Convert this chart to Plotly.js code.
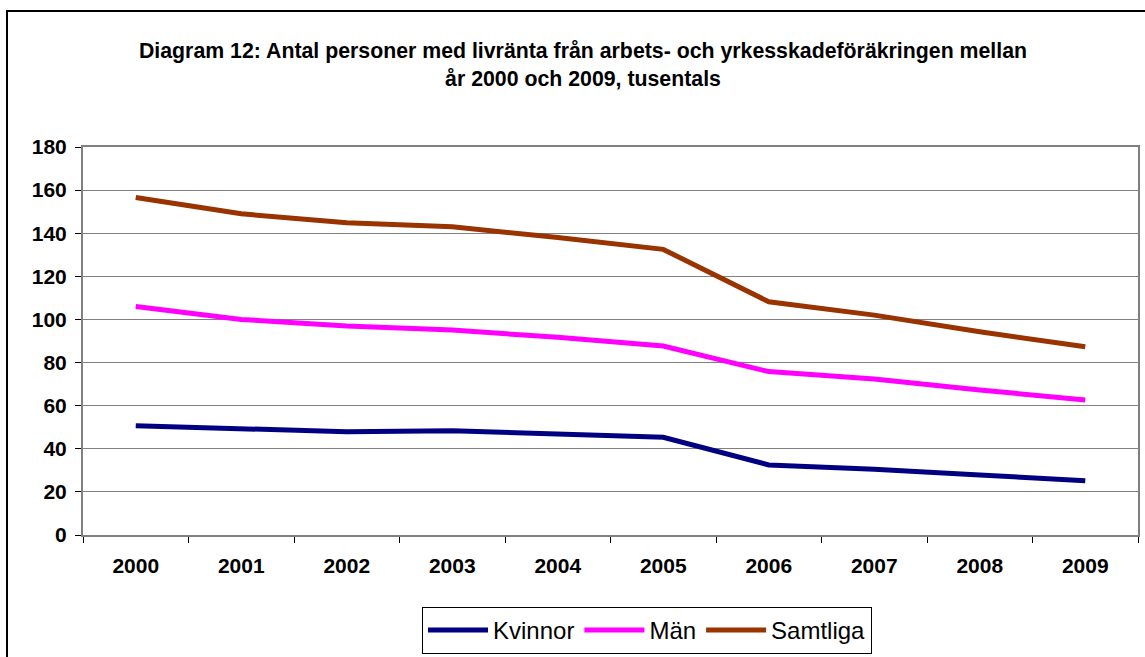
<!DOCTYPE html>
<html>
<head>
<meta charset="utf-8">
<script src="https://cdn.plot.ly/plotly-3.0.1.min.js"></script>
<style>
html,body{margin:0;padding:0;background:#fff;}
#chart{width:1145px;height:657px;}
</style>
</head>
<body>
<div id="chart"></div>
<script>
// Data (tusentals)
const years = ["2000","2001","2002","2003","2004","2005","2006","2007","2008","2009"];
const kvinnor = [50.7, 49.2, 47.9, 48.4, 46.8, 45.3, 32.5, 30.5, 27.8, 25.2];
const man = [106, 100, 97, 95.1, 91.7, 87.7, 75.8, 72.4, 67.3, 62.6];
const samtliga = [156.6, 149, 144.9, 143, 138, 132.5, 108.2, 102, 94.3, 87.3];
const seriesNames = ["Kvinnor", "Män", "Samtliga"];
const seriesColors = ["#000080", "#FF00FF", "#993300"];
const titleText = "Diagram 12: Antal personer med livränta från arbets- och yrkesskadeföräkringen mellan<br>år 2000 och 2009, tusentals";

const FONT = "Liberation Sans, Arial, Helvetica, sans-serif";
const seriesValues = [kvinnor, man, samtliga];

const traces = seriesNames.map((name, i) => ({
  type: "scatter",
  mode: "lines",
  name: name,
  x: years,
  y: seriesValues[i],
  line: {color: seriesColors[i], width: 5},
  hoverinfo: "x+y+name"
}));

// plot area in pixels: x 83..1138, y 147..535
const L = 83, R = 7, T = 147, B = 122;
const PW = 1145 - L - R, PH = 657 - T - B;
const px = v => (v - L) / PW;
const py = v => (657 - B - v) / PH;

const layout = {
  width: 1145,
  height: 657,
  margin: {l: L, r: R, t: T, b: B, pad: 0, autoexpand: false},
  paper_bgcolor: "#ffffff",
  plot_bgcolor: "#ffffff",
  font: {family: FONT, color: "#000000"},
  title: {
    text: titleText,
    font: {family: FONT, size: 21.3, color: "#000000", weight: "bold"},
    x: 583 / 1145,
    xref: "container",
    xanchor: "center",
    y: 1 - 58 / 657,
    yref: "container",
    yanchor: "middle"
  },
  xaxis: {
    type: "category",
    range: [-0.5, years.length - 0.5],
    tickson: "boundaries",
    ticks: "outside",
    ticklen: 6,
    tickwidth: 1,
    tickcolor: "#000000",
    showgrid: false,
    showline: true,
    linecolor: "#808080",
    linewidth: 2,
    mirror: true,
    automargin: false,
    tickfont: {family: FONT, size: 21, color: "#000000", weight: "bold"},
    ticklabelstandoff: 11,
    fixedrange: true
  },
  yaxis: {
    range: [0, 180],
    dtick: 20,
    tick0: 0,
    ticks: "outside",
    ticklen: 6,
    tickwidth: 1,
    tickcolor: "#000000",
    showgrid: true,
    gridcolor: "#808080",
    gridwidth: 1,
    zeroline: false,
    showline: true,
    linecolor: "#808080",
    linewidth: 2,
    mirror: true,
    automargin: false,
    tickfont: {family: FONT, size: 21, color: "#000000", weight: "bold"},
    ticklabelstandoff: 4,
    fixedrange: true
  },
  showlegend: true,
  legend: {
    orientation: "h",
    x: px(422),
    y: py(607),
    xanchor: "left",
    yanchor: "top",
    xref: "paper",
    yref: "paper",
    bgcolor: "#ffffff",
    bordercolor: "#000000",
    borderwidth: 1,
    font: {family: FONT, size: 24, color: "#000000"},
    itemwidth: 60,
    tracegroupgap: 0
  },
  shapes: [
    {
      type: "rect",
      xref: "paper", yref: "paper",
      x0: px(7), x1: px(1170),
      y0: py(690), y1: py(11),
      line: {color: "#000000", width: 2},
      fillcolor: "rgba(0,0,0,0)",
      layer: "below"
    }
  ]
};

Plotly.newPlot("chart", traces, layout, {displayModeBar: false, staticPlot: true});
</script>
</body>
</html>
